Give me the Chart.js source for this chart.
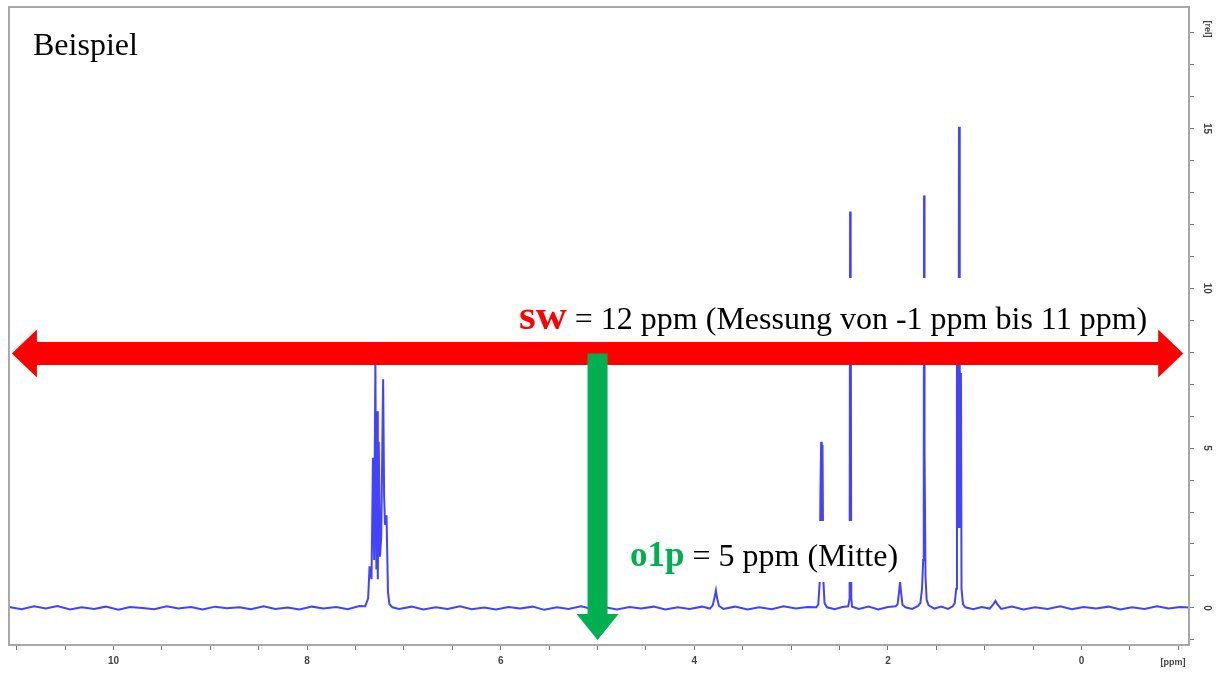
<!DOCTYPE html>
<html>
<head>
<meta charset="utf-8">
<script src="https://cdn.jsdelivr.net/npm/chart.js"></script>
<style>
  body { margin: 0; background: #fff; }
  #wrap { width: 1217px; height: 673px; }
</style>
</head>
<body>
<div id="wrap"><canvas id="nmrChart" width="1217" height="673"></canvas></div>
<script>
// axis ranges (ppm runs right to left)
const xMin = -1.11, xMax = 11.08;
const yMin = -1.16, yMax = 18.8;
const yLabelValues = [0, 5, 10, 15];

// spectrum: chemical shift (ppm) and intensity (rel)
const ppm = [
  11.08, 10.95, 10.82, 10.70, 10.58, 10.45, 10.33, 10.20, 10.08, 9.95, 9.83, 9.70, 9.58, 9.45, 9.33,
  9.20, 9.08, 8.95, 8.83, 8.70, 8.58, 8.45, 8.33, 8.20, 8.08, 7.95, 7.83, 7.70, 7.58, 7.46,
  7.40, 7.37, 7.355, 7.335, 7.32, 7.308, 7.295, 7.285, 7.277, 7.27, 7.26, 7.248, 7.235, 7.215, 7.205,
  7.195, 7.18, 7.165, 7.15, 7.12,
  7.05, 6.92, 6.80, 6.67, 6.55, 6.42, 6.30, 6.17, 6.05, 5.92, 5.80, 5.67, 5.55, 5.42, 5.30, 5.17,
  5.05, 4.92, 4.80, 4.67, 4.55, 4.42, 4.30, 4.17, 4.05, 3.92, 3.84,
  3.81, 3.79, 3.777, 3.765, 3.745,
  3.70, 3.58, 3.45, 3.33, 3.20, 3.08, 2.95, 2.83, 2.74,
  2.72, 2.705, 2.697, 2.69, 2.684, 2.676, 2.668, 2.655, 2.63,
  2.55, 2.47, 2.41,
  2.396, 2.391, 2.387, 2.384, 2.379, 2.37,
  2.30, 2.20, 2.10, 2.00, 1.92,
  1.90, 1.885, 1.875, 1.865, 1.85, 1.82, 1.75, 1.69,
  1.665, 1.648, 1.636, 1.630, 1.627, 1.624, 1.620, 1.612, 1.60, 1.58,
  1.52, 1.45, 1.38, 1.33,
  1.31, 1.295, 1.287, 1.281, 1.276, 1.271, 1.266, 1.261, 1.256, 1.251, 1.246, 1.24, 1.225, 1.20,
  1.12, 1.03, 0.95, 0.91, 0.89, 0.87, 0.83, 0.72, 0.60, 0.48, 0.35, 0.22, 0.10, -0.02,
  -0.15, -0.28, -0.40, -0.52, -0.65, -0.78, -0.90, -1.02, -1.11
];
const intensity = [
  0.03, -0.04, 0.05, -0.02, 0.06, -0.05, 0.02, -0.03, 0.04, -0.06, 0.03, 0.00, -0.04, 0.05, -0.02,
  0.03, -0.05, 0.04, -0.01, 0.02, -0.04, 0.05, -0.03, 0.01, -0.05, 0.04, -0.02, 0.03, -0.04, 0.06,
  0.05, 0.3, 1.3, 0.9, 4.7, 1.5, 7.8, 1.2, 6.15, 0.9, 5.2, 1.6, 2.2, 7.15, 3.5,
  2.6, 2.9, 0.5, 0.12, 0.02,
  -0.03, 0.04, -0.05, 0.02, -0.03, 0.05, -0.04, 0.01, -0.05, 0.03, -0.02, 0.04, -0.06, 0.02, -0.03, 0.05,
  -0.04, 0.02, -0.05, 0.03, -0.02, 0.04, -0.05, 0.02, -0.03, 0.04, -0.02,
  0.08, 0.35, 0.55, 0.3, 0.06,
  -0.03, 0.04, -0.05, 0.02, -0.04, 0.05, -0.02, 0.03, 0.02,
  0.1, 0.8, 3.7, 5.2, 1.2, 5.1, 0.9, 0.15, 0.02,
  -0.04, 0.03, 0.05,
  0.3, 12.4, 1.0, 11.85, 0.3, 0.04,
  -0.03, 0.04, -0.05, 0.03, 0.05,
  0.12, 0.5, 0.82, 0.5, 0.1, 0.02, -0.03, 0.06,
  0.15, 0.6, 1.5, 3.1, 12.9, 12.6, 4.9, 1.0, 0.25, 0.08,
  -0.02, 0.04, -0.03, 0.05,
  0.15, 0.6, 7.6, 3.0, 7.7, 2.5, 15.05, 2.5, 7.6, 5.4, 7.35, 0.6, 0.12, 0.02,
  -0.04, 0.03, -0.02, 0.12, 0.22, 0.12, -0.03, 0.04, -0.05, 0.02, -0.03, 0.05, -0.04, 0.03,
  -0.02, 0.04, -0.05, 0.02, -0.03, 0.05, -0.02, 0.03, 0.01
];

// annotation values
const swFrom = 11.05, swTo = -1.05, swLevel = 7.96;
const o1p = 5, o1pTip = -1.0;
const swLabel = ["sw", " = 12 ppm (Messung von -1 ppm bis 11 ppm)"];
const o1pLabel = ["o1p", " = 5 ppm (Mitte)"];
const titleText = "Beispiel";

const points = ppm.map((p, i) => ({ x: p, y: intensity[i] }));
const tickFont = { family: "Liberation Sans", size: 10, weight: "bold" };

const annotate = {
  id: "annotate",
  beforeDraw(chart) {
    const ctx = chart.ctx;
    ctx.save();
    ctx.fillStyle = "#fff";
    ctx.fillRect(0, 0, chart.width, chart.height);
    ctx.restore();
  },
  afterDraw(chart) {
    const ctx = chart.ctx;
    const a = chart.chartArea;
    const xs = chart.scales.x, ys = chart.scales.y;
    ctx.save();

    // frame
    ctx.strokeStyle = "#a8a8a8";
    ctx.lineWidth = 2;
    ctx.strokeRect(a.left, a.top, a.right - a.left, a.bottom - a.top);

    // right axis labels, rotated
    ctx.fillStyle = "#444";
    ctx.font = "bold 10px 'Liberation Sans'";
    ctx.textAlign = "center";
    ctx.textBaseline = "middle";
    yLabelValues.forEach(v => {
      ctx.save();
      ctx.translate(a.right + 18, ys.getPixelForValue(v));
      ctx.rotate(Math.PI / 2);
      ctx.fillText(String(v), 0, 0);
      ctx.restore();
    });
    ctx.font = "bold 9px 'Liberation Sans'";
    ctx.save();
    ctx.translate(a.right + 18, a.top + 22);
    ctx.rotate(Math.PI / 2);
    ctx.fillText("[rel]", 0, 0);
    ctx.restore();
    ctx.fillText("[ppm]", a.right - 16, a.bottom + 18);

    // title
    ctx.fillStyle = "#000";
    ctx.textAlign = "left";
    ctx.textBaseline = "alphabetic";
    ctx.font = "32px 'Liberation Serif'";
    ctx.fillText(titleText, 33, 55);

    // sw label with white box
    ctx.fillStyle = "#fff";
    ctx.fillRect(508, 278, 652, 66);
    let tx = 519;
    ctx.font = "bold 43px 'Liberation Serif'";
    ctx.fillStyle = "#ff0000";
    ctx.fillText(swLabel[0], tx, 329);
    tx += ctx.measureText(swLabel[0]).width;
    ctx.font = "32px 'Liberation Serif'";
    ctx.fillStyle = "#000";
    ctx.fillText(swLabel[1], tx, 329);

    // red double arrow (sw)
    const yArr = ys.getPixelForValue(swLevel);
    const xl = xs.getPixelForValue(swFrom), xr = xs.getPixelForValue(swTo);
    const sh = 11.5, hh = 24, hl = 25;
    ctx.fillStyle = "#ff0000";
    ctx.beginPath();
    ctx.moveTo(xl, yArr);
    ctx.lineTo(xl + hl, yArr - hh);
    ctx.lineTo(xl + hl, yArr - sh);
    ctx.lineTo(xr - hl, yArr - sh);
    ctx.lineTo(xr - hl, yArr - hh);
    ctx.lineTo(xr, yArr);
    ctx.lineTo(xr - hl, yArr + hh);
    ctx.lineTo(xr - hl, yArr + sh);
    ctx.lineTo(xl + hl, yArr + sh);
    ctx.lineTo(xl + hl, yArr + hh);
    ctx.closePath();
    ctx.fill();

    // green arrow (o1p)
    const xg = xs.getPixelForValue(o1p);
    const yTip = ys.getPixelForValue(o1pTip);
    const gw = 10, gh = 21, gl = 26;
    ctx.fillStyle = "#00b050";
    ctx.beginPath();
    ctx.moveTo(xg - gw, yArr);
    ctx.lineTo(xg + gw, yArr);
    ctx.lineTo(xg + gw, yTip - gl);
    ctx.lineTo(xg + gh, yTip - gl);
    ctx.lineTo(xg, yTip);
    ctx.lineTo(xg - gh, yTip - gl);
    ctx.lineTo(xg - gw, yTip - gl);
    ctx.closePath();
    ctx.fill();

    // o1p label with white box
    ctx.fillStyle = "#fff";
    ctx.fillRect(622, 521, 286, 61);
    tx = 630;
    ctx.font = "bold 35px 'Liberation Serif'";
    ctx.fillStyle = "#00b050";
    ctx.fillText(o1pLabel[0], tx, 566);
    tx += ctx.measureText(o1pLabel[0]).width;
    ctx.font = "32px 'Liberation Serif'";
    ctx.fillStyle = "#000";
    ctx.fillText(o1pLabel[1], tx, 566);

    ctx.restore();
  }
};

const nmrChart = new Chart("nmrChart", {
  type: "line",
  data: {
    datasets: [{
      label: "Spektrum",
      data: points,
      borderColor: "rgba(25, 25, 255, 0.82)",
      borderWidth: 2,
      pointRadius: 0,
      tension: 0,
      fill: false
    }]
  },
  options: {
    responsive: false,
    animation: false,
    layout: { padding: { left: 9, top: 7, right: 0, bottom: 0 } },
    plugins: { legend: { display: false }, tooltip: { enabled: false } },
    scales: {
      x: {
        type: "linear",
        reverse: true,
        min: xMin,
        max: xMax,
        ticks: {
          stepSize: 0.5,
          includeBounds: false,
          autoSkip: false,
          maxRotation: 0,
          padding: 5,
          color: "#444",
          font: tickFont,
          callback: v => (Math.abs(v % 2) < 1e-6 ? String(v) : "")
        },
        grid: { drawOnChartArea: false, drawTicks: true, tickLength: 5, color: "#777" },
        border: { display: true, color: "#a8a8a8", width: 2 },
        afterFit: s => { s.height = 28; }
      },
      y: {
        type: "linear",
        position: "right",
        min: yMin,
        max: yMax,
        ticks: { stepSize: 1, includeBounds: false, display: false },
        grid: { drawOnChartArea: false, drawTicks: true, tickLength: 5, color: "#777" },
        border: { display: true, color: "#a8a8a8", width: 2 },
        afterFit: s => { s.width = 28; }
      }
    }
  },
  plugins: [annotate]
});
</script>
</body>
</html>
